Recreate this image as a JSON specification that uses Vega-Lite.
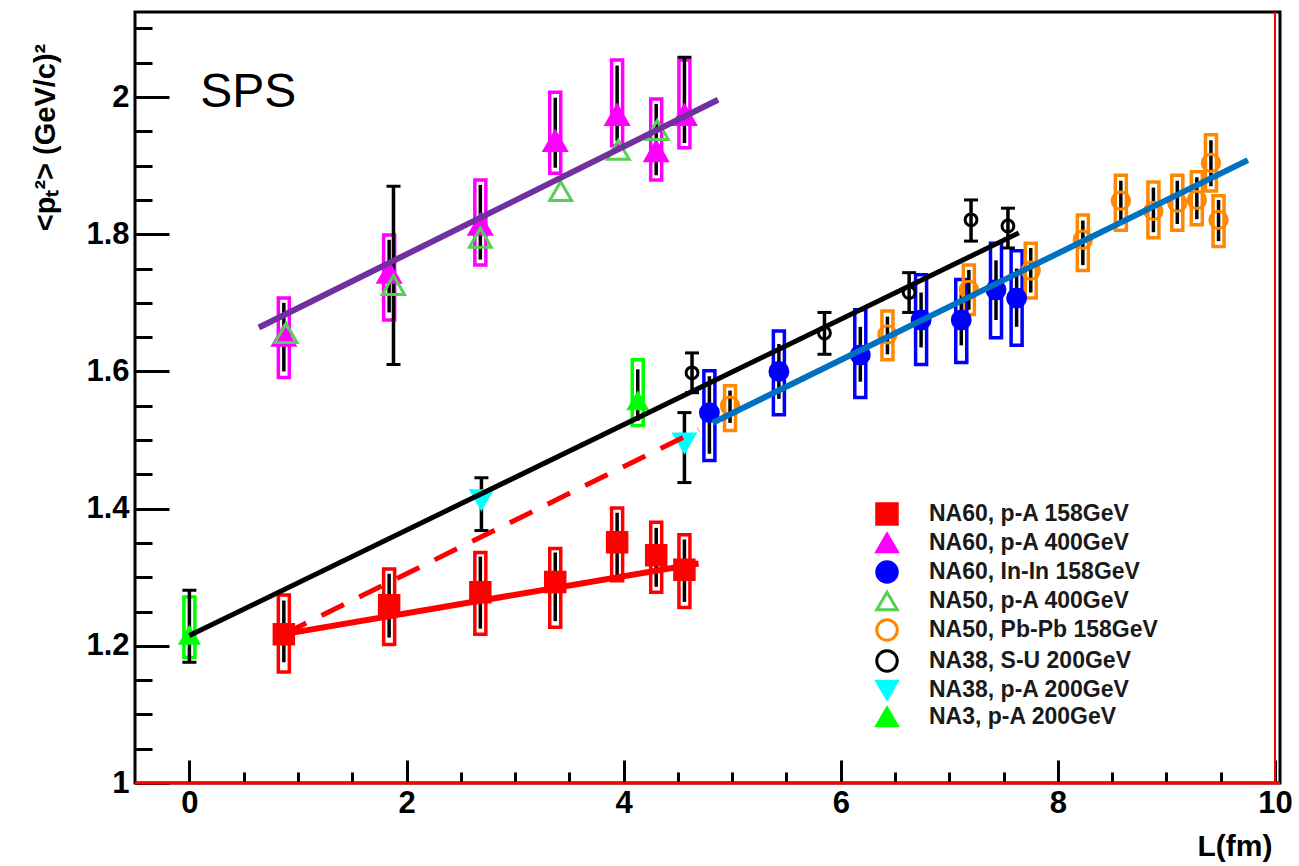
{
  "$schema": "https://vega.github.io/schema/vega-lite/v6.json",
  "width": 1145,
  "height": 771,
  "autosize": {"type": "none"},
  "padding": {"left": 135, "top": 12, "right": 19, "bottom": 83},
  "background": "white",
  "view": {"stroke": "black", "strokeWidth": 3},
  "datasets": {
    "pts": [
      {"s": "NA60, p-A 158GeV", "L": 0.87, "pt2": 1.217, "lo": 1.176, "hi": 1.266, "blo": 1.162, "bhi": 1.274},
      {"s": "NA60, p-A 158GeV", "L": 1.84, "pt2": 1.259, "lo": 1.212, "hi": 1.305, "blo": 1.202, "bhi": 1.312},
      {"s": "NA60, p-A 158GeV", "L": 2.68, "pt2": 1.278, "lo": 1.225, "hi": 1.330, "blo": 1.217, "bhi": 1.336},
      {"s": "NA60, p-A 158GeV", "L": 3.37, "pt2": 1.293, "lo": 1.236, "hi": 1.336, "blo": 1.227, "bhi": 1.342},
      {"s": "NA60, p-A 158GeV", "L": 3.94, "pt2": 1.351, "lo": 1.303, "hi": 1.394, "blo": 1.295, "bhi": 1.401},
      {"s": "NA60, p-A 158GeV", "L": 4.30, "pt2": 1.332, "lo": 1.286, "hi": 1.372, "blo": 1.278, "bhi": 1.380},
      {"s": "NA60, p-A 158GeV", "L": 4.56, "pt2": 1.311, "lo": 1.264, "hi": 1.355, "blo": 1.256, "bhi": 1.362},
      {"s": "NA60, p-A 400GeV", "L": 0.87, "pt2": 1.652, "lo": 1.600, "hi": 1.700, "blo": 1.591, "bhi": 1.707},
      {"s": "NA60, p-A 400GeV", "L": 1.84, "pt2": 1.744, "lo": 1.686, "hi": 1.792, "blo": 1.675, "bhi": 1.799},
      {"s": "NA60, p-A 400GeV", "L": 2.68, "pt2": 1.814, "lo": 1.763, "hi": 1.872, "blo": 1.755, "bhi": 1.879},
      {"s": "NA60, p-A 400GeV", "L": 3.37, "pt2": 1.936, "lo": 1.897, "hi": 1.999, "blo": 1.889, "bhi": 2.007},
      {"s": "NA60, p-A 400GeV", "L": 3.94, "pt2": 1.974, "lo": 1.936, "hi": 2.046, "blo": 1.929, "bhi": 2.054},
      {"s": "NA60, p-A 400GeV", "L": 4.30, "pt2": 1.921, "lo": 1.886, "hi": 1.990, "blo": 1.879, "bhi": 1.997},
      {"s": "NA60, p-A 400GeV", "L": 4.56, "pt2": 1.974, "lo": 1.933, "hi": 2.058, "blo": 1.926, "bhi": 2.054},
      {"s": "NA60, In-In 158GeV", "L": 4.79, "pt2": 1.540, "lo": 1.480, "hi": 1.593, "blo": 1.470, "bhi": 1.601},
      {"s": "NA60, In-In 158GeV", "L": 5.43, "pt2": 1.600, "lo": 1.560, "hi": 1.640, "blo": 1.537, "bhi": 1.659},
      {"s": "NA60, In-In 158GeV", "L": 6.18, "pt2": 1.624, "lo": 1.585, "hi": 1.665, "blo": 1.562, "bhi": 1.690},
      {"s": "NA60, In-In 158GeV", "L": 6.74, "pt2": 1.675, "lo": 1.635, "hi": 1.715, "blo": 1.610, "bhi": 1.741},
      {"s": "NA60, In-In 158GeV", "L": 7.11, "pt2": 1.675, "lo": 1.638, "hi": 1.712, "blo": 1.613, "bhi": 1.734},
      {"s": "NA60, In-In 158GeV", "L": 7.43, "pt2": 1.719, "lo": 1.675, "hi": 1.762, "blo": 1.649, "bhi": 1.787},
      {"s": "NA60, In-In 158GeV", "L": 7.62, "pt2": 1.707, "lo": 1.665, "hi": 1.750, "blo": 1.638, "bhi": 1.776},
      {"s": "NA50, p-A 400GeV", "L": 0.89, "pt2": 1.656},
      {"s": "NA50, p-A 400GeV", "L": 1.88, "pt2": 1.726, "lo": 1.610, "hi": 1.870},
      {"s": "NA50, p-A 400GeV", "L": 2.68, "pt2": 1.795},
      {"s": "NA50, p-A 400GeV", "L": 3.42, "pt2": 1.863},
      {"s": "NA50, p-A 400GeV", "L": 3.95, "pt2": 1.923},
      {"s": "NA50, p-A 400GeV", "L": 4.31, "pt2": 1.952},
      {"s": "NA50, Pb-Pb 158GeV", "L": 4.98, "pt2": 1.550, "lo": 1.525, "hi": 1.572, "blo": 1.514, "bhi": 1.579},
      {"s": "NA50, Pb-Pb 158GeV", "L": 6.43, "pt2": 1.654, "lo": 1.625, "hi": 1.680, "blo": 1.617, "bhi": 1.688},
      {"s": "NA50, Pb-Pb 158GeV", "L": 7.18, "pt2": 1.719, "lo": 1.690, "hi": 1.748, "blo": 1.683, "bhi": 1.755},
      {"s": "NA50, Pb-Pb 158GeV", "L": 7.75, "pt2": 1.747, "lo": 1.715, "hi": 1.780, "blo": 1.707, "bhi": 1.787},
      {"s": "NA50, Pb-Pb 158GeV", "L": 8.23, "pt2": 1.792, "lo": 1.755, "hi": 1.820, "blo": 1.747, "bhi": 1.828},
      {"s": "NA50, Pb-Pb 158GeV", "L": 8.58, "pt2": 1.849, "lo": 1.815, "hi": 1.878, "blo": 1.806, "bhi": 1.886},
      {"s": "NA50, Pb-Pb 158GeV", "L": 8.88, "pt2": 1.834, "lo": 1.803, "hi": 1.868, "blo": 1.795, "bhi": 1.876},
      {"s": "NA50, Pb-Pb 158GeV", "L": 9.10, "pt2": 1.846, "lo": 1.815, "hi": 1.878, "blo": 1.806, "bhi": 1.886},
      {"s": "NA50, Pb-Pb 158GeV", "L": 9.28, "pt2": 1.850, "lo": 1.822, "hi": 1.883, "blo": 1.814, "bhi": 1.891},
      {"s": "NA50, Pb-Pb 158GeV", "L": 9.41, "pt2": 1.904, "lo": 1.870, "hi": 1.937, "blo": 1.863, "bhi": 1.945},
      {"s": "NA50, Pb-Pb 158GeV", "L": 9.48, "pt2": 1.821, "lo": 1.790, "hi": 1.850, "blo": 1.782, "bhi": 1.856},
      {"s": "NA38, S-U 200GeV", "L": 4.63, "pt2": 1.598, "lo": 1.569, "hi": 1.627},
      {"s": "NA38, S-U 200GeV", "L": 5.85, "pt2": 1.656, "lo": 1.625, "hi": 1.686},
      {"s": "NA38, S-U 200GeV", "L": 6.63, "pt2": 1.715, "lo": 1.686, "hi": 1.744},
      {"s": "NA38, S-U 200GeV", "L": 7.20, "pt2": 1.821, "lo": 1.790, "hi": 1.850},
      {"s": "NA38, S-U 200GeV", "L": 7.54, "pt2": 1.812, "lo": 1.780, "hi": 1.838},
      {"s": "NA38, p-A 200GeV", "L": 2.69, "pt2": 1.413, "lo": 1.368, "hi": 1.445},
      {"s": "NA38, p-A 200GeV", "L": 4.56, "pt2": 1.496, "lo": 1.438, "hi": 1.540},
      {"s": "NA3, p-A 200GeV", "L": 0.0, "pt2": 1.215, "lo": 1.176, "hi": 1.281, "blo": 1.183, "bhi": 1.271},
      {"s": "NA3, p-A 200GeV", "L": 4.13, "pt2": 1.557, "lo": 1.528, "hi": 1.603, "blo": 1.521, "bhi": 1.617}
    ],
    "fits": [
      {"fit": "pA400", "L": 0.64, "pt2": 1.664},
      {"fit": "pA400", "L": 4.87, "pt2": 1.996},
      {"fit": "pA158", "L": 0.87, "pt2": 1.217},
      {"fit": "pA158", "L": 4.69, "pt2": 1.320},
      {"fit": "pA158dash", "L": 0.87, "pt2": 1.217},
      {"fit": "pA158dash", "L": 4.69, "pt2": 1.515},
      {"fit": "all", "L": 0.0, "pt2": 1.215},
      {"fit": "all", "L": 7.64, "pt2": 1.802},
      {"fit": "InIn", "L": 4.82, "pt2": 1.525},
      {"fit": "InIn", "L": 9.75, "pt2": 1.908}
    ],
    "labels": [
      {"t": "SPS", "L": 0.10, "pt2": 1.985}
    ]
  },
  "resolve": {"axis": {"x": "independent", "y": "independent"}},
  "layer": [
    {
      "data": {"name": "pts"},
      "transform": [{"filter": "isValid(datum.blo)"}],
      "mark": {"type": "bar", "filled": false, "strokeWidth": 3.5, "size": 11},
      "encoding": {
        "x": {
          "field": "L", "type": "quantitative",
          "scale": {"domain": [-0.455, 10], "nice": false, "zero": false},
          "axis": {
            "orient": "bottom", "values": [0, 2, 4, 6, 8, 10], "tickSize": -23, "tickWidth": 3, "tickColor": "black",
            "domain": false, "grid": false, "labelFont": "Liberation Sans", "labelFontWeight": "bold", "labelFontSize": 31,
            "labelColor": "black", "labelPadding": 28, "labelFlush": false, "labelOverlap": false,
            "title": "L(fm)", "titleFont": "Liberation Sans", "titleFontWeight": "bold", "titleFontSize": 30,
            "titleColor": "black", "titleAlign": "right", "titleBaseline": "alphabetic", "titleX": 1137, "titleY": 72
          }
        },
        "y": {
          "field": "blo", "type": "quantitative",
          "scale": {"domain": [1, 2.124], "nice": false, "zero": false},
          "axis": {
            "orient": "left", "values": [1, 1.2, 1.4, 1.6, 1.8, 2], "format": "~g", "tickSize": -34, "tickWidth": 3, "tickColor": "black",
            "domain": false, "grid": false, "labelFont": "Liberation Sans", "labelFontWeight": "bold", "labelFontSize": 31,
            "labelColor": "black", "labelPadding": 40, "labelFlush": false, "labelOverlap": false,
            "title": "<pₜ²> (GeV/c)²", "titleFont": "Liberation Sans", "titleFontWeight": "bold", "titleFontSize": 29,
            "titleColor": "black", "titleAngle": -90, "titleAlign": "center", "titleBaseline": "middle", "titleX": -90, "titleY": 125
          }
        },
        "y2": {"field": "bhi"},
        "color": {
          "field": "s", "type": "nominal", "legend": null,
          "scale": {
            "domain": ["NA60, p-A 158GeV", "NA60, p-A 400GeV", "NA60, In-In 158GeV", "NA50, Pb-Pb 158GeV", "NA3, p-A 200GeV"],
            "range": ["#ff0000", "#ff00ff", "#0000ff", "#ff8800", "#00ff00"]
          }
        }
      }
    },
    {
      "data": {"name": "pts"},
      "transform": [{"filter": "isValid(datum.lo)"}],
      "mark": {"type": "rule", "color": "black", "strokeWidth": 3.5},
      "encoding": {
        "x": {
          "field": "L", "type": "quantitative",
          "axis": {
            "orient": "bottom", "values": [0, 0.5, 1, 1.5, 2, 2.5, 3, 3.5, 4, 4.5, 5, 5.5, 6, 6.5, 7, 7.5, 8, 8.5, 9, 9.5, 10],
            "tickSize": -11, "tickWidth": 3, "tickColor": "black", "labels": false, "domain": false, "grid": false, "title": null
          }
        },
        "y": {
          "field": "lo", "type": "quantitative",
          "axis": {
            "orient": "left", "values": [1, 1.05, 1.1, 1.15, 1.2, 1.25, 1.3, 1.35, 1.4, 1.45, 1.5, 1.55, 1.6, 1.65, 1.7, 1.75, 1.8, 1.85, 1.9, 1.95, 2, 2.05, 2.1],
            "tickSize": -17, "tickWidth": 3, "tickColor": "black", "labels": false, "domain": false, "grid": false, "title": null
          }
        },
        "y2": {"field": "hi"}
      }
    },
    {
      "data": {"name": "pts"},
      "transform": [{"filter": "isValid(datum.lo) && (!isValid(datum.blo) || datum.lo < datum.blo)"}],
      "mark": {"type": "tick", "orient": "horizontal", "color": "black", "size": 14, "thickness": 3, "opacity": 1},
      "encoding": {
        "x": {"field": "L", "type": "quantitative", "axis": null},
        "y": {"field": "lo", "type": "quantitative", "axis": null}
      }
    },
    {
      "data": {"name": "pts"},
      "transform": [{"filter": "isValid(datum.hi) && (!isValid(datum.bhi) || datum.hi > datum.bhi)"}],
      "mark": {"type": "tick", "orient": "horizontal", "color": "black", "size": 14, "thickness": 3, "opacity": 1},
      "encoding": {
        "x": {"field": "L", "type": "quantitative", "axis": null},
        "y": {"field": "hi", "type": "quantitative", "axis": null}
      }
    },
    {
      "data": {"name": "pts"},
      "mark": {"type": "point", "strokeWidth": 3, "opacity": 1},
      "encoding": {
        "x": {"field": "L", "type": "quantitative", "axis": null},
        "y": {"field": "pt2", "type": "quantitative", "axis": null},
        "shape": {
          "field": "s", "type": "nominal",
          "scale": {
            "domain": ["NA60, p-A 158GeV", "NA60, p-A 400GeV", "NA60, In-In 158GeV", "NA50, p-A 400GeV", "NA50, Pb-Pb 158GeV", "NA38, S-U 200GeV", "NA38, p-A 200GeV", "NA3, p-A 200GeV"],
            "range": ["square", "triangle-up", "circle", "triangle-up", "circle", "circle", "triangle-down", "triangle-up"]
          },
          "legend": {"title": null, "orient": "none", "legendX": 740, "legendY": 490, "labelFont": "Liberation Sans", "labelFontWeight": "bold", "labelFontSize": 23, "labelColor": "#1a1a1a", "labelOffset": 30, "rowPadding": -3, "symbolSize": 420, "symbolStrokeWidth": 3, "padding": 0, "labelLimit": 400}
        },
        "fill": {
          "field": "s", "type": "nominal",
          "scale": {
            "domain": ["NA60, p-A 158GeV", "NA60, p-A 400GeV", "NA60, In-In 158GeV", "NA50, p-A 400GeV", "NA50, Pb-Pb 158GeV", "NA38, S-U 200GeV", "NA38, p-A 200GeV", "NA3, p-A 200GeV"],
            "range": ["#ff0000", "#ff00ff", "#0000ff", "transparent", "transparent", "transparent", "#00ffff", "#00ff00"]
          },
          "legend": {"title": null, "orient": "none", "legendX": 740, "legendY": 490, "labelFont": "Liberation Sans", "labelFontWeight": "bold", "labelFontSize": 23, "labelColor": "#1a1a1a", "labelOffset": 30, "rowPadding": -3, "symbolSize": 420, "symbolStrokeWidth": 3, "padding": 0, "labelLimit": 400}
        },
        "stroke": {
          "field": "s", "type": "nominal",
          "scale": {
            "domain": ["NA60, p-A 158GeV", "NA60, p-A 400GeV", "NA60, In-In 158GeV", "NA50, p-A 400GeV", "NA50, Pb-Pb 158GeV", "NA38, S-U 200GeV", "NA38, p-A 200GeV", "NA3, p-A 200GeV"],
            "range": ["#ff0000", "#ff00ff", "#0000ff", "#55d055", "#ff8800", "#000000", "#00ffff", "#00ff00"]
          },
          "legend": {"title": null, "orient": "none", "legendX": 740, "legendY": 490, "labelFont": "Liberation Sans", "labelFontWeight": "bold", "labelFontSize": 23, "labelColor": "#1a1a1a", "labelOffset": 30, "rowPadding": -3, "symbolSize": 420, "symbolStrokeWidth": 3, "padding": 0, "labelLimit": 400}
        },
        "size": {
          "field": "s", "type": "nominal", "legend": null,
          "scale": {
            "type": "ordinal",
            "domain": ["NA3, p-A 200GeV", "NA38, p-A 200GeV", "NA38, S-U 200GeV", "NA50, Pb-Pb 158GeV", "NA50, p-A 400GeV", "NA60, In-In 158GeV", "NA60, p-A 400GeV", "NA60, p-A 158GeV"],
            "range": [320, 420, 140, 300, 480, 320, 480, 380]
          }
        }
      }
    },
    {
      "data": {"name": "fits"},
      "transform": [{"filter": "datum.fit == 'pA400'"}],
      "mark": {"type": "line", "color": "#7030a0", "strokeWidth": 6},
      "encoding": {
        "x": {"field": "L", "type": "quantitative", "axis": null},
        "y": {"field": "pt2", "type": "quantitative", "axis": null}
      }
    },
    {
      "data": {"name": "fits"},
      "transform": [{"filter": "datum.fit == 'pA158'"}],
      "mark": {"type": "line", "color": "#ff0000", "strokeWidth": 6},
      "encoding": {
        "x": {"field": "L", "type": "quantitative", "axis": null},
        "y": {"field": "pt2", "type": "quantitative", "axis": null}
      }
    },
    {
      "data": {"name": "fits"},
      "transform": [{"filter": "datum.fit == 'pA158dash'"}],
      "mark": {"type": "line", "color": "#ff0000", "strokeWidth": 5, "strokeDash": [25, 17]},
      "encoding": {
        "x": {"field": "L", "type": "quantitative", "axis": null},
        "y": {"field": "pt2", "type": "quantitative", "axis": null}
      }
    },
    {
      "data": {"name": "fits"},
      "transform": [{"filter": "datum.fit == 'all'"}],
      "mark": {"type": "line", "color": "#000000", "strokeWidth": 5},
      "encoding": {
        "x": {"field": "L", "type": "quantitative", "axis": null},
        "y": {"field": "pt2", "type": "quantitative", "axis": null}
      }
    },
    {
      "data": {"name": "fits"},
      "transform": [{"filter": "datum.fit == 'InIn'"}],
      "mark": {"type": "line", "color": "#0070c0", "strokeWidth": 6},
      "encoding": {
        "x": {"field": "L", "type": "quantitative", "axis": null},
        "y": {"field": "pt2", "type": "quantitative", "axis": null}
      }
    },
    {
      "data": {"name": "labels"},
      "mark": {"type": "text", "font": "Liberation Sans", "fontSize": 48, "align": "left", "baseline": "alphabetic", "color": "black"},
      "encoding": {
        "x": {"field": "L", "type": "quantitative", "axis": null},
        "y": {"field": "pt2", "type": "quantitative", "axis": null},
        "text": {"field": "t"}
      }
    },
    {
      "data": {"values": [{}]},
      "mark": {"type": "rule", "color": "#ff0000", "strokeWidth": 3},
      "encoding": {"y": {"datum": 1, "type": "quantitative", "axis": null}}
    },
    {
      "data": {"values": [{}]},
      "mark": {"type": "rule", "color": "#ff0000", "strokeWidth": 2},
      "encoding": {"x": {"datum": 10, "type": "quantitative", "axis": null}}
    }
  ]
}
